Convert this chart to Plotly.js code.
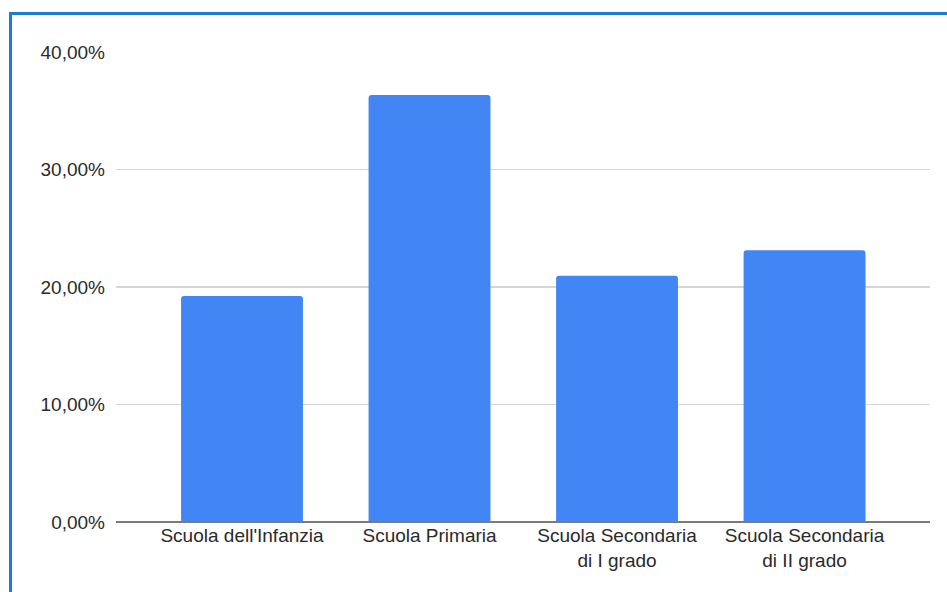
<!DOCTYPE html>
<html>
<head>
<meta charset="utf-8">
<script src="https://cdn.plot.ly/plotly-3.0.1.min.js"></script>
<style>
html,body{margin:0;padding:0;background:#fff;overflow:hidden;}
#chart{position:absolute;left:0;top:0;width:947px;height:592px;}
#frame{position:absolute;left:9px;top:12px;width:1200px;height:1200px;border-left:3px solid #1f7bcf;border-top:3px solid #1f7bcf;pointer-events:none;box-sizing:border-box;}
</style>
</head>
<body>
<div id="chart"></div>
<div id="frame"></div>
<script>
const categories = ["Scuola dell'Infanzia", "Scuola Primaria", "Scuola Secondaria<br>di I grado", "Scuola Secondaria<br>di II grado"];
const values = [0.1923, 0.3634, 0.2096, 0.2312];
const tickValues = [0, 0.1, 0.2, 0.3, 0.4];

const trace = {
  type: 'bar',
  x: categories,
  y: values,
  width: 0.65,
  marker: {color: '#4285f4', cornerradius: 3},
  hoverinfo: 'none'
};

const layout = {
  width: 947,
  height: 592,
  margin: {l: 116, r: 17, t: 52, b: 70},
  paper_bgcolor: '#ffffff',
  plot_bgcolor: '#ffffff',
  separators: ',.',
  font: {family: 'Liberation Sans, Arial, sans-serif', size: 19, color: '#2a2a2a'},
  showlegend: false,
  xaxis: {
    type: 'category',
    range: [-0.672, 3.669],
    showgrid: false,
    showline: false,
    ticks: '',
    ticklabelstandoff: 0,
    tickfont: {size: 19, color: '#2a2a2a'},
    fixedrange: true
  },
  yaxis: {
    range: [0, 0.4],
    tickvals: tickValues,
    tickformat: '.2%',
    showgrid: true,
    gridcolor: '#d6d6d6',
    gridwidth: 1.5,
    zeroline: true,
    zerolinecolor: '#7a7a7a',
    zerolinewidth: 2,
    showline: false,
    ticks: '',
    ticklabelstandoff: 10,
    tickfont: {size: 19, color: '#2a2a2a'},
    fixedrange: true
  }
};

Plotly.newPlot('chart', [trace], layout, {displayModeBar: false, staticPlot: true});
</script>
</body>
</html>
